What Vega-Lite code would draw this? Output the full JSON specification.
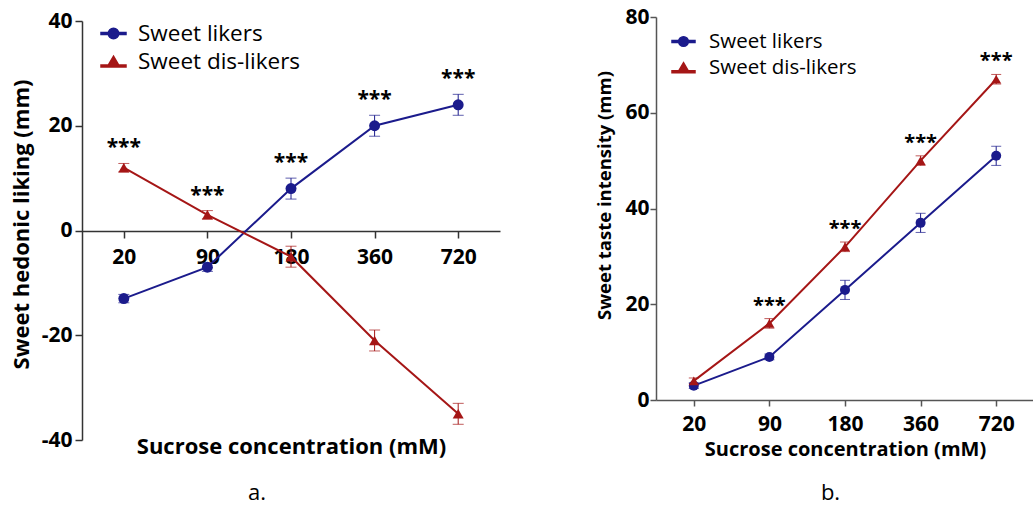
{
  "$schema": "https://vega.github.io/schema/vega-lite/v6.json",
  "padding": {"left": 10, "top": 6, "right": 0, "bottom": 4},
  "background": "white",
  "config": {
    "font": "Open Sans",
    "view": {"stroke": null},
    "axis": {"grid": false, "labelColor": "black", "titleColor": "black", "labelFont": "Open Sans", "titleFont": "Open Sans"},
    "legend": {"labelFont": "Open Sans", "labelColor": "black", "labelLimit": 400, "symbolOpacity": 1}
  },
  "datasets": {
    "liking": [
      {"conc": "20", "group": "Sweet likers", "mean": -13, "lo": -13.8, "hi": -12.2, "sig": ""},
      {"conc": "90", "group": "Sweet likers", "mean": -7, "lo": -7.8, "hi": -6.2, "sig": ""},
      {"conc": "180", "group": "Sweet likers", "mean": 8, "lo": 6, "hi": 10, "sig": "***"},
      {"conc": "360", "group": "Sweet likers", "mean": 20, "lo": 18, "hi": 22, "sig": "***"},
      {"conc": "720", "group": "Sweet likers", "mean": 24, "lo": 22, "hi": 26, "sig": "***"},
      {"conc": "20", "group": "Sweet dis-likers", "mean": 12, "lo": 11.2, "hi": 12.8, "sig": "***"},
      {"conc": "90", "group": "Sweet dis-likers", "mean": 3, "lo": 2.2, "hi": 3.8, "sig": "***"},
      {"conc": "180", "group": "Sweet dis-likers", "mean": -5, "lo": -7, "hi": -3, "sig": ""},
      {"conc": "360", "group": "Sweet dis-likers", "mean": -21, "lo": -23, "hi": -19, "sig": ""},
      {"conc": "720", "group": "Sweet dis-likers", "mean": -35, "lo": -37, "hi": -33, "sig": ""}
    ],
    "intensity": [
      {"conc": "20", "group": "Sweet likers", "mean": 3, "lo": 2.4, "hi": 3.6, "sig": ""},
      {"conc": "90", "group": "Sweet likers", "mean": 9, "lo": 8.4, "hi": 9.6, "sig": ""},
      {"conc": "180", "group": "Sweet likers", "mean": 23, "lo": 21, "hi": 25, "sig": ""},
      {"conc": "360", "group": "Sweet likers", "mean": 37, "lo": 35, "hi": 39, "sig": ""},
      {"conc": "720", "group": "Sweet likers", "mean": 51, "lo": 49, "hi": 53, "sig": ""},
      {"conc": "20", "group": "Sweet dis-likers", "mean": 4, "lo": 3.4, "hi": 4.6, "sig": ""},
      {"conc": "90", "group": "Sweet dis-likers", "mean": 16, "lo": 15, "hi": 17, "sig": "***"},
      {"conc": "180", "group": "Sweet dis-likers", "mean": 32, "lo": 31, "hi": 33, "sig": "***"},
      {"conc": "360", "group": "Sweet dis-likers", "mean": 50, "lo": 49, "hi": 51, "sig": "***"},
      {"conc": "720", "group": "Sweet dis-likers", "mean": 67, "lo": 66, "hi": 68, "sig": "***"}
    ]
  },
  "resolve": {
    "scale": {"color": "independent", "shape": "independent"},
    "legend": {"color": "independent", "shape": "independent"}
  },
  "spacing": 95,
  "hconcat": [
    {
      "width": 418,
      "height": 423,
      "data": {"name": "liking"},
      "title": {"text": "a.", "orient": "bottom", "frame": "bounds", "anchor": "middle", "fontSize": 22, "fontWeight": "normal", "offset": 26, "dx": 2, "color": "black"},
      "encoding": {
        "x": {
          "field": "conc", "type": "ordinal", "sort": ["20", "90", "180", "360", "720"],
          "scale": {"type": "point", "padding": 0.5},
          "axis": {
            "offset": -209, "labelAngle": 0, "domainColor": "#333", "domainWidth": 1.5,
            "tickColor": "#333", "tickWidth": 1.5, "tickSize": 7, "labelPadding": 8,
            "labelFontSize": 21, "labelFontWeight": "bold",
            "title": "Sucrose concentration (mM)", "titleFontSize": 22, "titleFontWeight": "bold",
            "titleY": 222, "titleBaseline": "alphabetic"
          }
        },
        "color": {
          "field": "group", "type": "nominal",
          "scale": {"domain": ["Sweet likers", "Sweet dis-likers"], "range": ["#1b1b8c", "#a51616"]},
          "legend": {
            "title": null, "orient": "none", "legendX": 18, "legendY": 3,
            "labelFontSize": 22.5, "symbolSize": 625, "symbolOpacity": 1, "rowPadding": 3, "labelOffset": 11
          }
        }
      },
      "layer": [
        {
          "mark": {"type": "line", "strokeWidth": 2},
          "encoding": {
            "y": {
              "field": "mean", "type": "quantitative", "title": "Sweet hedonic liking (mm)",
              "scale": {"domain": [-40, 40], "range": [423, 4]},
              "axis": {
                "values": [-40, -20, 0, 20, 40], "domainColor": "#333", "domainWidth": 1.5,
                "labelExpr": "datum.value < 0 ? '-' + (-datum.value) : '' + datum.value",
                "tickColor": "#333", "tickWidth": 1.5, "tickSize": 7, "labelPadding": 3,
                "labelFontSize": 21, "labelFontWeight": "bold",
                "titleFontSize": 22, "titleFontWeight": "bold",
                "titleX": -61, "titleY": 207, "titleBaseline": "middle"
              }
            }
          }
        },
        {
          "mark": {"type": "errorbar", "ticks": {"size": 11, "thickness": 1}, "thickness": 1},
          "encoding": {
            "y": {"field": "lo", "type": "quantitative", "title": "Sweet hedonic liking (mm)"},
            "y2": {"field": "hi"}
          }
        },
        {
          "mark": {"type": "point", "filled": true, "opacity": 1, "size": 120},
          "encoding": {
            "y": {"field": "mean", "type": "quantitative", "title": "Sweet hedonic liking (mm)"},
            "shape": {"condition": {"test": "datum.group == 'Sweet likers'", "value": "circle"}, "value": "triangle-up"}
          }
        },
        {
          "mark": {"type": "point", "filled": true, "opacity": 0},
          "encoding": {
            "y": {"field": "mean", "type": "quantitative", "title": "Sweet hedonic liking (mm)"},
            "shape": {
              "field": "group", "type": "nominal",
              "scale": {
                "domain": ["Sweet likers", "Sweet dis-likers"],
                "range": [
                  "M-1,-0.08L1,-0.08L1,0.08L-1,0.08Z M-0.42,0A0.42,0.42 0 1,1 0.42,0A0.42,0.42 0 1,1 -0.42,0Z",
                  "M-1,0.28L1,0.28L1,0.44L-1,0.44Z M0,-0.42L0.46,0.36L-0.46,0.36Z"
                ]
              },
              "legend": {
                "title": null, "orient": "none", "legendX": 18, "legendY": 3,
                "labelFontSize": 22.5, "symbolSize": 625, "symbolOpacity": 1, "rowPadding": 3, "labelOffset": 11
              }
            }
          }
        },
        {
          "transform": [{"filter": "datum.sig != ''"}],
          "mark": {"type": "text", "dy": -9, "fontSize": 21, "fontWeight": "bold", "baseline": "alphabetic"},
          "encoding": {
            "y": {"field": "hi", "type": "quantitative", "title": "Sweet hedonic liking (mm)"},
            "text": {"field": "sig"},
            "color": {"value": "black"}
          }
        }
      ]
    },
    {
      "width": 378,
      "height": 383,
      "data": {"name": "intensity"},
      "title": {"text": "b.", "orient": "bottom", "frame": "bounds", "anchor": "middle", "fontSize": 22, "fontWeight": "normal", "offset": 24, "dx": 16, "color": "black"},
      "encoding": {
        "x": {
          "field": "conc", "type": "ordinal", "sort": ["20", "90", "180", "360", "720"],
          "scale": {"type": "point", "padding": 0.5},
          "axis": {
            "labelAngle": 0, "domainColor": "#555", "domainWidth": 1.5,
            "tickColor": "#555", "tickWidth": 1.5, "tickSize": 6, "labelPadding": 7,
            "labelFontSize": 21, "labelFontWeight": "bold",
            "title": "Sucrose concentration (mM)", "titleFontSize": 20, "titleFontWeight": "bold",
            "titleY": 55, "titleBaseline": "alphabetic"
          }
        },
        "color": {
          "field": "group", "type": "nominal",
          "scale": {"domain": ["Sweet likers", "Sweet dis-likers"], "range": ["#1b1b8c", "#a51616"]},
          "legend": {
            "title": null, "orient": "none", "legendX": 15, "legendY": 12,
            "labelFontSize": 20.5, "symbolSize": 529, "symbolOpacity": 1, "rowPadding": 3, "labelOffset": 13
          }
        }
      },
      "layer": [
        {
          "mark": {"type": "line", "strokeWidth": 2},
          "encoding": {
            "y": {
              "field": "mean", "type": "quantitative", "title": "Sweet taste intensity (mm)",
              "scale": {"domain": [0, 80]},
              "axis": {
                "values": [0, 20, 40, 60, 80], "domainColor": "#555", "domainWidth": 1.5,
                "tickColor": "#555", "tickWidth": 1.5, "tickSize": 6, "labelPadding": 1,
                "labelFontSize": 21, "labelFontWeight": "bold",
                "titleFontSize": 18.5, "titleFontWeight": "bold",
                "titleX": -52, "titleY": 178, "titleBaseline": "middle"
              }
            }
          }
        },
        {
          "mark": {"type": "errorbar", "ticks": {"size": 10, "thickness": 1}, "thickness": 1},
          "encoding": {
            "y": {"field": "lo", "type": "quantitative", "title": "Sweet taste intensity (mm)"},
            "y2": {"field": "hi"}
          }
        },
        {
          "mark": {"type": "point", "filled": true, "opacity": 1, "size": 100},
          "encoding": {
            "y": {"field": "mean", "type": "quantitative", "title": "Sweet taste intensity (mm)"},
            "shape": {"condition": {"test": "datum.group == 'Sweet likers'", "value": "circle"}, "value": "triangle-up"}
          }
        },
        {
          "mark": {"type": "point", "filled": true, "opacity": 0},
          "encoding": {
            "y": {"field": "mean", "type": "quantitative", "title": "Sweet taste intensity (mm)"},
            "shape": {
              "field": "group", "type": "nominal",
              "scale": {
                "domain": ["Sweet likers", "Sweet dis-likers"],
                "range": [
                  "M-1,-0.085L1,-0.085L1,0.085L-1,0.085Z M-0.42,0A0.42,0.42 0 1,1 0.42,0A0.42,0.42 0 1,1 -0.42,0Z",
                  "M-1,0.28L1,0.28L1,0.45L-1,0.45Z M0,-0.42L0.46,0.36L-0.46,0.36Z"
                ]
              },
              "legend": {
                "title": null, "orient": "none", "legendX": 15, "legendY": 12,
                "labelFontSize": 20.5, "symbolSize": 529, "symbolOpacity": 1, "rowPadding": 3, "labelOffset": 13
              }
            }
          }
        },
        {
          "transform": [{"filter": "datum.sig != ''"}],
          "mark": {"type": "text", "dy": -7, "fontSize": 20, "fontWeight": "bold", "baseline": "alphabetic"},
          "encoding": {
            "y": {"field": "hi", "type": "quantitative", "title": "Sweet taste intensity (mm)"},
            "text": {"field": "sig"},
            "color": {"value": "black"}
          }
        }
      ]
    }
  ]
}
